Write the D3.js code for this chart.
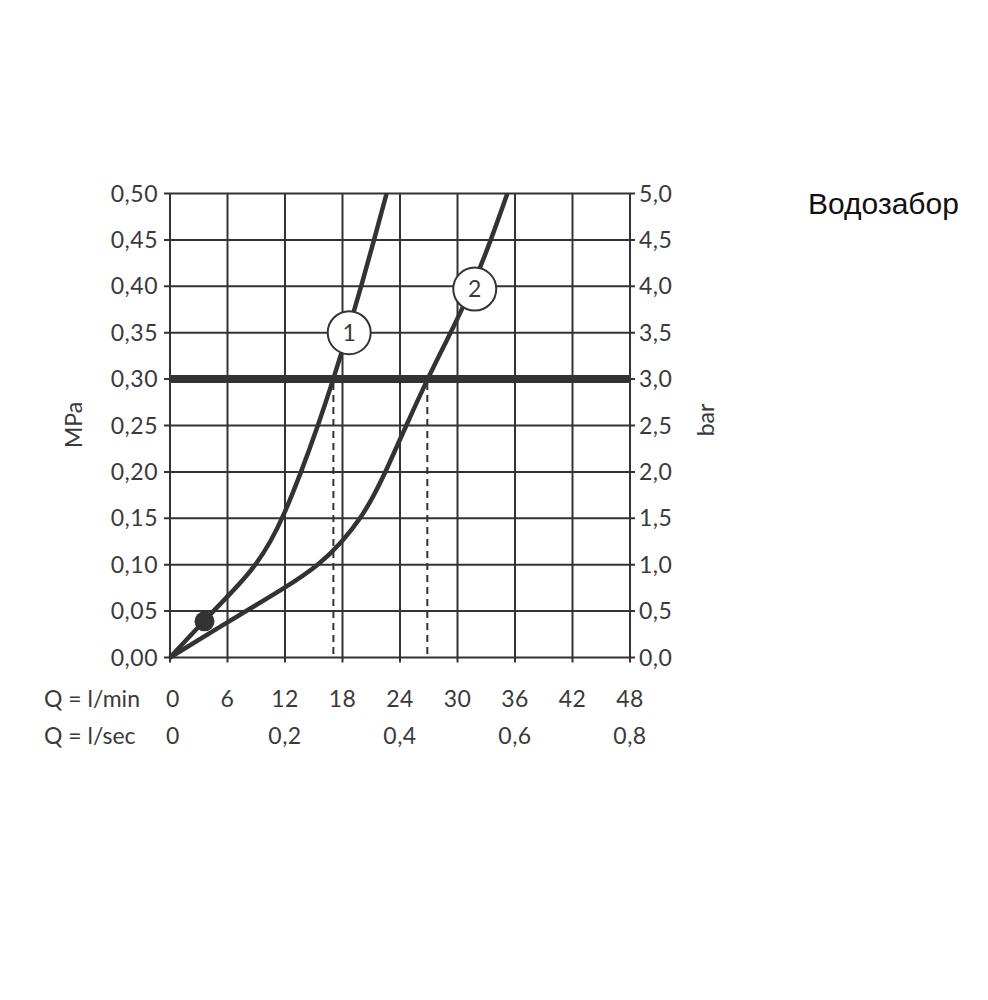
<!DOCTYPE html>
<html><head><meta charset="utf-8">
<script src="https://cdn.jsdelivr.net/npm/d3@7"></script>
<style>body{margin:0;background:#fff}</style>
</head><body>
<svg id="chart" width="988" height="1000"></svg>
<script>
const flowTicks = [0, 6, 12, 18, 24, 30, 36, 42, 48];
const secTicks = [0, 0.2, 0.4, 0.6, 0.8];
const pressureTicks = [0, 0.05, 0.10, 0.15, 0.20, 0.25, 0.30, 0.35, 0.40, 0.45, 0.50];
const barLabels = ["0,0","0,5","1,0","1,5","2,0","2,5","3,0","3,5","4,0","4,5","5,0"];
const curve1Flow = [0, 4.5, 6.9, 9.0, 10.5, 11.75, 13.7, 15.45, 17.05, 18.55, 19.95, 21.3, 22.6];
const curve1Pressure = [0, 0.05, 0.075, 0.10, 0.125, 0.15, 0.20, 0.25, 0.30, 0.35, 0.40, 0.45, 0.50];
const curve2Flow = [0, 7.9, 12.0, 15.6, 18.0, 19.9, 21.3, 22.5, 24.65, 26.85, 29.3, 31.6, 33.5, 35.2];
const curve2Pressure = [0, 0.05, 0.075, 0.10, 0.125, 0.15, 0.175, 0.20, 0.25, 0.30, 0.35, 0.40, 0.45, 0.50];
const operatingPressure = 0.30;
const operatingFlows = [17.05, 26.85];
const labelNames = ["1", "2"];
const labelFlow = [18.7, 31.8];
const labelPressure = [0.35, 0.397];
const dotFlow = [3.6];
const dotPressure = [0.039];
const title = "Водозабор";

const svg = d3.select("#chart");
const ink = "#333";
const txt = "#3a3a3a";
const font = "Lato, 'Open Sans', sans-serif";
const fs = 23;
const x = d3.scaleLinear().domain([0, 48]).range([170, 630]);
const y = d3.scaleLinear().domain([0, 0.5]).range([657.5, 193.5]);
const fmt2 = d => d3.format(".2f")(d).replace(".", ",");

// grid
const g = svg.append("g");
g.selectAll("line.v").data(flowTicks).join("line")
  .attr("x1", d => x(d)).attr("x2", d => x(d))
  .attr("y1", y(0.5)).attr("y2", y(0) + 5)
  .attr("stroke", ink).attr("stroke-width", 2);
g.selectAll("line.h").data(pressureTicks).join("line")
  .attr("y1", d => y(d)).attr("y2", d => y(d))
  .attr("x1", x(0) - 6).attr("x2", x(48) + 5)
  .attr("stroke", ink).attr("stroke-width", 2);

function label(sel) {
  return sel.attr("font-family", font).attr("font-size", fs).attr("fill", txt);
}
// left tick labels
label(svg.append("g").selectAll("text").data(pressureTicks).join("text")
  .attr("x", 158).attr("y", d => y(d) + 8)
  .attr("text-anchor", "end").attr("letter-spacing", 0.5)).text(fmt2);
// right tick labels
label(svg.append("g").selectAll("text").data(pressureTicks).join("text")
  .attr("x", 639).attr("y", (d) => y(d) + 8)
  .attr("text-anchor", "start").attr("letter-spacing", 0.5)).text((d, i) => barLabels[i]);
// bottom labels
label(svg.append("g").selectAll("text").data(flowTicks).join("text")
  .attr("x", d => x(d)).attr("y", 707)
  .attr("text-anchor", d => d === 0 ? "start" : "middle").attr("dx", d => d === 0 ? -4 : 0)
  .attr("letter-spacing", 0.5)).text(d => d);
label(svg.append("g").selectAll("text").data(secTicks).join("text")
  .attr("x", d => x(d * 60)).attr("y", 744)
  .attr("text-anchor", d => d === 0 ? "start" : "middle").attr("dx", d => d === 0 ? -4 : 0)
  .attr("letter-spacing", 0.5)).text(d => d === 0 ? "0" : String(d).replace(".", ","));
label(svg.append("text").attr("x", 44).attr("y", 707)).text("Q = l/min");
label(svg.append("text").attr("x", 44).attr("y", 744)).text("Q = l/sec");

// axis titles
label(svg.append("text").attr("transform", "translate(82,425) rotate(-90)")
  .attr("text-anchor", "middle")).text("MPa");
label(svg.append("text").attr("transform", "translate(714,420) rotate(-90)")
  .attr("text-anchor", "middle")).text("bar");

// operating line
svg.append("line").attr("x1", x(0)).attr("x2", x(48))
  .attr("y1", y(operatingPressure)).attr("y2", y(operatingPressure))
  .attr("stroke", ink).attr("stroke-width", 8);
// dashed drops
svg.append("g").selectAll("line").data(operatingFlows).join("line")
  .attr("x1", d => x(d)).attr("x2", d => x(d))
  .attr("y1", y(operatingPressure) + 4).attr("y2", y(0))
  .attr("stroke", ink).attr("stroke-width", 2).attr("stroke-dasharray", "7,5");

// curves
const line = d3.line().x(d => x(d[0])).y(d => y(d[1])).curve(d3.curveBasis);
[[curve1Flow, curve1Pressure], [curve2Flow, curve2Pressure]].forEach(([f, p]) => {
  svg.append("path").datum(f.map((v, i) => [v, p[i]])).attr("d", line)
    .attr("fill", "none").attr("stroke", ink).attr("stroke-width", 4.5)
    .attr("stroke-linejoin", "round");
});
// dot
svg.append("g").selectAll("circle").data(dotFlow).join("circle")
  .attr("cx", d => x(d)).attr("cy", (d, i) => y(dotPressure[i])).attr("r", 10).attr("fill", ink);
// labels
const lab = svg.append("g").selectAll("g").data(labelNames).join("g")
  .attr("transform", (d, i) => `translate(${x(labelFlow[i])},${y(labelPressure[i])})`);
lab.append("circle").attr("r", 21.5).attr("fill", "#fff").attr("stroke", ink).attr("stroke-width", 2);
label(lab.append("text").attr("text-anchor", "middle").attr("y", 8)).text(d => d);

// title
svg.append("text").attr("x", 808).attr("y", 214).attr("font-family", "'Liberation Sans', Arial, sans-serif")
  .attr("font-size", 30).attr("fill", "#111").text(title);
</script>
</body></html>
